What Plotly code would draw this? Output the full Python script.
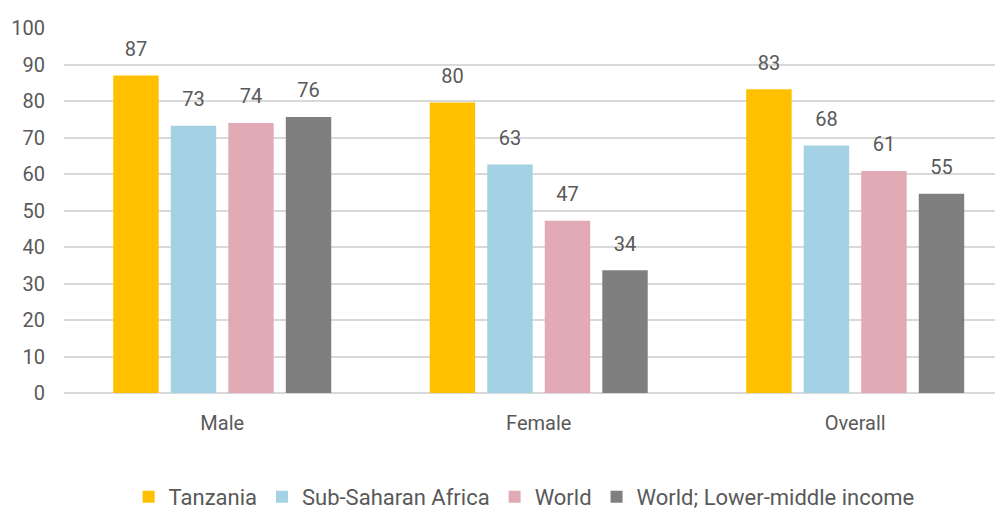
import plotly.graph_objects as go

categories = ["Male", "Female", "Overall"]
series_names = ["Tanzania", "Sub-Saharan Africa", "World", "World; Lower-middle income"]
tanzania = [87.0, 79.6, 83.2]
ssa = [73.2, 62.6, 67.8]
world = [74.0, 47.2, 60.8]
lmi = [75.6, 33.6, 54.6]
colors = ["#FFC000", "#A5D1E4", "#E2AAB5", "#7F7F7F"]
y_ticks = [0, 10, 20, 30, 40, 50, 60, 70, 80, 90, 100]

FONT = "Roboto, Noto Sans, sans-serif"
TXT = "#595959"
GAP = 0.273

fig = go.Figure()
for i, (name, vals, col) in enumerate(zip(series_names, [tanzania, ssa, world, lmi], colors)):
    fig.add_trace(go.Bar(
        name=name, x=categories, y=vals, offsetgroup=str(i),
        marker=dict(color=col, line=dict(width=0)),
    ))
for i, (name, vals) in enumerate(zip(series_names, [tanzania, ssa, world, lmi])):
    fig.add_trace(go.Scatter(
        x=categories, y=vals, offsetgroup=str(i), mode="markers+text",
        text=[f"{v:.0f}" for v in vals], textposition="top center",
        marker=dict(size=22, opacity=0), cliponaxis=False,
        textfont=dict(size=20, color=TXT, family=FONT),
        showlegend=False, hoverinfo="skip",
    ))

fig.update_layout(
    width=995, height=502,
    paper_bgcolor="white", plot_bgcolor="white",
    barmode="group", bargap=GAP, bargroupgap=0.21,
    scattermode="group", scattergap=GAP,
    margin=dict(l=56, r=0, t=20, b=117),
    font=dict(family=FONT, size=20, color=TXT),
    showlegend=True,
    legend=dict(orientation="h", x=0.49, xanchor="center", yref="container",
                y=0.026, yanchor="middle",
                font=dict(size=22, color=TXT), itemwidth=30, traceorder="normal"),
    xaxis=dict(type="category", range=[-0.5, 2.467], showgrid=False, ticks="",
               showline=False, tickfont=dict(size=20, color=TXT), ticklabelstandoff=16,
               automargin=False),
    yaxis=dict(range=[0, 100], tickvals=y_ticks, showgrid=True, gridcolor="#D9D9D9",
               gridwidth=1.5, zeroline=True, zerolinecolor="#D9D9D9", zerolinewidth=1.5,
               showline=False, ticks="", tickfont=dict(size=20, color=TXT),
               ticklabelstandoff=18, automargin=False),
)

fig.write_html("out.html")
